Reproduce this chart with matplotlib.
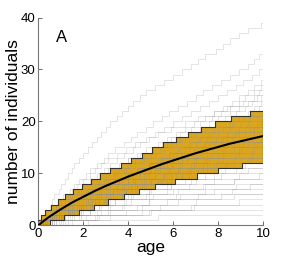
import numpy as np
import matplotlib as mpl
import matplotlib.pyplot as plt

mpl.rcParams.update({
    "font.family": ["Liberation Sans", "DejaVu Sans"],
    "xtick.direction": "in",
    "ytick.direction": "in",
})

GOLD = "#DAA520"

# simulated trajectories: ages at which the count goes up by one
trajectories = [
    [0.1, 0.2, 0.3, 0.5, 0.6, 0.7, 0.9, 1.0, 1.2, 1.3, 1.5, 1.6, 1.8, 2.0, 2.2, 2.4, 2.6, 2.8, 3.0, 3.2,
     3.5, 3.7, 4.0, 4.2, 4.5, 4.8, 5.2, 5.6, 6.0, 6.4, 6.8, 7.1, 7.4, 7.9, 8.2, 8.5, 8.9, 9.3, 9.9],
    [0.2, 0.4, 0.6, 0.8, 0.9, 1.1, 1.4, 1.6, 1.8, 2.1, 2.3, 2.6, 2.9, 3.1, 3.4, 3.8, 4.1, 4.4, 4.8, 5.1,
     5.5, 5.8, 6.2, 6.6, 7.0, 7.3, 7.7, 8.1, 8.5, 8.9, 9.3, 9.6, 9.8],
    [0.3, 0.5, 0.8, 1.0, 1.3, 1.5, 1.8, 2.0, 2.3, 2.6, 2.9, 3.2, 3.5, 3.8, 4.2, 4.5, 4.9, 5.2, 5.6, 6.0,
     6.4, 6.8, 7.2, 7.6, 8.0, 8.4, 8.8, 9.1, 9.5, 9.8],
    [0.2, 0.6, 0.9, 1.1, 1.4, 1.7, 2.1, 2.4, 2.7, 3.0, 3.4, 3.7, 4.0, 4.4, 4.8, 5.3, 5.7, 6.1, 6.5, 6.9,
     7.4, 7.8, 8.2, 8.6, 8.9, 9.3, 9.6, 9.9],
    [0.1, 0.3, 0.6, 0.8, 1.0, 1.3, 1.5, 1.7, 2.0, 2.3, 2.5, 2.8, 3.1, 3.5, 3.9, 4.3, 4.8, 5.3, 5.9, 6.5,
     7.1, 7.8, 8.4, 9.1, 9.7],
    [0.4, 0.7, 1.0, 1.2, 1.5, 1.9, 2.2, 2.5, 2.9, 3.3, 3.6, 4.0, 4.3, 4.7, 5.1, 5.5, 5.9, 6.3, 6.8, 7.2,
     7.7, 8.1, 8.5, 8.9, 9.2, 9.6, 9.9],
    [0.3, 0.5, 0.9, 1.3, 1.6, 1.9, 2.3, 2.6, 3.0, 3.4, 3.8, 4.1, 4.6, 5.0, 5.4, 5.9, 6.3, 6.8, 7.2, 7.6,
     8.0, 8.5, 8.9, 9.3, 9.6, 9.8],
    [0.2, 0.4, 0.7, 0.9, 1.2, 1.4, 1.7, 2.0, 2.4, 2.7, 3.1, 3.6, 4.0, 4.5, 5.1, 5.7, 6.4, 7.0, 7.8, 8.6,
     9.4],
    [0.1, 0.5, 0.8, 1.2, 1.6, 2.0, 2.3, 2.7, 3.1, 3.5, 3.9, 4.3, 4.7, 5.2, 5.6, 6.1, 6.5, 7.0, 7.4, 7.9,
     8.3, 8.8, 9.2, 9.5, 9.9],
    [0.4, 0.9, 1.3, 1.6, 2.0, 2.4, 2.8, 3.2, 3.6, 4.0, 4.5, 4.9, 5.4, 5.8, 6.2, 6.7, 7.1, 7.6, 8.0, 8.5,
     8.9, 9.3, 9.6, 9.9],
    [0.3, 0.7, 1.1, 1.5, 1.8, 2.3, 2.7, 3.1, 3.6, 4.0, 4.4, 4.9, 5.3, 5.8, 6.3, 6.8, 7.2, 7.7, 8.2, 8.7,
     9.1, 9.5, 9.8],
    [0.2, 0.6, 1.0, 1.4, 1.9, 2.3, 2.8, 3.2, 3.7, 4.1, 4.6, 5.0, 5.5, 6.0, 6.5, 7.0, 7.5, 8.0, 8.5, 9.0,
     9.4, 9.8],
    [0.3, 0.6, 0.9, 1.3, 1.7, 2.1, 2.5, 3.0, 3.4, 3.9, 4.4, 4.9, 5.5, 6.1, 6.7, 7.4, 8.1, 8.8, 9.6],
    [0.5, 0.9, 1.3, 1.8, 2.2, 2.6, 3.1, 3.5, 4.0, 4.5, 5.0, 5.4, 5.9, 6.4, 6.9, 7.4, 7.9, 8.4, 8.9, 9.3, 9.7],
    [0.3, 0.8, 1.2, 1.7, 2.1, 2.6, 3.0, 3.5, 4.0, 4.5, 5.0, 5.5, 6.0, 6.6, 7.1, 7.6, 8.2, 8.7, 9.2, 9.7],
    [0.6, 1.0, 1.4, 1.9, 2.4, 2.8, 3.3, 3.7, 4.2, 4.7, 5.2, 5.7, 6.2, 6.7, 7.3, 7.8, 8.4, 8.9, 9.4, 9.9],
    [0.4, 0.9, 1.4, 1.8, 2.3, 2.8, 3.3, 3.8, 4.3, 4.8, 5.3, 5.9, 6.4, 7.0, 7.5, 8.1, 8.6, 9.2, 9.7],
    [0.2, 0.7, 1.2, 1.7, 2.2, 2.7, 3.2, 3.8, 4.3, 4.9, 5.4, 6.0, 6.6, 7.2, 7.8, 8.4, 9.0, 9.6],
    [0.5, 1.0, 1.5, 2.0, 2.5, 3.0, 3.6, 4.1, 4.7, 5.2, 5.8, 6.3, 6.9, 7.5, 8.1, 8.7, 9.2, 9.8],
    [0.2, 0.5, 0.9, 1.2, 1.6, 2.1, 2.5, 3.0, 3.6, 4.2, 4.9, 5.6, 6.4, 7.3, 8.2, 9.1],
    [0.3, 0.8, 1.3, 1.9, 2.4, 3.0, 3.5, 4.1, 4.6, 5.2, 5.8, 6.4, 7.0, 7.7, 8.3, 8.9, 9.5],
    [0.6, 1.1, 1.6, 2.1, 2.7, 3.3, 3.9, 4.4, 5.0, 5.6, 6.2, 6.8, 7.4, 8.0, 8.7, 9.3, 9.9],
    [0.4, 0.9, 1.5, 2.0, 2.6, 3.2, 3.8, 4.4, 5.0, 5.6, 6.2, 6.9, 7.5, 8.2, 8.9, 9.6],
    [0.2, 0.7, 1.3, 1.9, 2.5, 3.1, 3.7, 4.3, 4.9, 5.6, 6.3, 6.9, 7.6, 8.3, 9.0, 9.7],
    [0.1, 0.6, 1.0, 1.5, 2.1, 2.6, 3.3, 4.0, 4.8, 5.7, 6.7, 7.8, 9.0],
    [0.5, 1.1, 1.7, 2.3, 2.9, 3.5, 4.1, 4.8, 5.4, 6.1, 6.8, 7.5, 8.2, 8.9, 9.6],
    [0.3, 0.9, 1.4, 2.0, 2.7, 3.3, 3.9, 4.6, 5.3, 5.9, 6.6, 7.3, 8.0, 8.8, 9.5],
    [0.6, 1.2, 1.8, 2.4, 3.0, 3.7, 4.3, 5.0, 5.7, 6.4, 7.1, 7.9, 8.7, 9.5],
    [0.2, 0.8, 1.3, 1.9, 2.5, 3.2, 3.9, 4.7, 5.5, 6.4, 7.3, 8.3, 9.4],
    [0.4, 1.0, 1.7, 2.3, 3.0, 3.7, 4.4, 5.1, 5.9, 6.7, 7.5, 8.4, 9.3],
    [0.7, 1.3, 2.0, 2.7, 3.4, 4.1, 4.9, 5.7, 6.5, 7.4, 8.3, 9.2],
    [0.3, 1.0, 1.6, 2.4, 3.2, 4.0, 4.9, 5.9, 7.0, 8.1, 9.3],
    [0.5, 1.2, 1.9, 2.7, 3.4, 4.2, 5.0, 5.9, 6.8, 7.8, 8.8],
    [0.8, 1.5, 2.3, 3.1, 3.9, 4.8, 5.7, 6.7, 7.8, 8.9],
    [0.4, 1.1, 1.9, 2.8, 3.8, 4.9, 6.0, 7.3, 8.7, 9.8],
    [0.6, 1.4, 2.3, 3.2, 4.1, 5.1, 6.2, 7.4, 8.7],
    [0.9, 1.8, 2.8, 3.8, 4.9, 6.1, 7.4, 8.8],
    [0.7, 1.6, 2.6, 3.7, 4.9, 6.3, 7.8, 9.4],
    [1.0, 2.1, 3.2, 4.4, 5.7, 7.1, 8.6],
    [0.8, 1.9, 3.1, 4.6, 6.2, 8.1],
    [1.2, 2.5, 3.9, 5.4, 7.0, 8.7],
    [1.5, 3.2, 5.0, 6.9, 8.9],
    [1.1, 2.7, 4.6, 6.8],
    [1.3, 2.6, 4.9],
    [2.2, 5.3],
]

# band: age at which each edge reaches the next level
upper_ages = [0.0, 0.1, 0.3, 0.55, 0.85, 1.2, 1.55, 1.95, 2.35, 2.75, 3.2, 3.65, 4.1,
              4.6, 5.05, 5.55, 6.1, 6.66, 7.25, 7.84, 8.58, 9.4]
upper_levels = list(range(1, 23))
lower_ages = [0.0, 0.5, 1.15, 1.8, 2.45, 3.1, 3.8, 4.45, 5.18, 6.07, 7.03, 7.99, 9.03]
lower_levels = list(range(0, 13))

# mean curve
mean_age = [0, 0.25, 0.5, 1, 1.5, 2, 2.5, 3, 3.5, 4, 4.5, 5, 5.5, 6, 6.5, 7, 7.5, 8, 8.5, 9, 9.5, 10]
mean_count = [0, 0.9, 1.7, 3.1, 4.4, 5.5, 6.6, 7.6, 8.5, 9.4, 10.2, 11.0, 11.8, 12.5, 13.2, 13.9,
              14.5, 15.1, 15.7, 16.2, 16.7, 17.2]

T_END = 10.0


def step_xy(ages, levels, t_end):
    x, y = [], []
    for i, (a, lv) in enumerate(zip(ages, levels)):
        nxt = ages[i + 1] if i + 1 < len(ages) else t_end
        x += [a, nxt]
        y += [lv, lv]
    return np.array(x), np.array(y)


fig = plt.figure(figsize=(2.91, 2.62), dpi=100)
ax = fig.add_axes([0.132, 0.140, 0.773, 0.793])

ux, uy = step_xy(upper_ages, upper_levels, T_END)
lx, ly = step_xy(lower_ages, lower_levels, T_END)
px = np.concatenate([ux, lx[::-1]])
py = np.concatenate([uy, ly[::-1]])
ax.fill(px, py, color=GOLD, lw=0, zorder=1)

for jumps in trajectories:
    ages = [0.0] + jumps
    counts = list(range(len(ages)))
    x, y = step_xy(ages, counts, T_END)
    ax.plot(x, y, color="#909090", lw=0.6, alpha=0.28, zorder=2)

ax.plot(ux, uy, color="#333333", lw=0.8, zorder=3)
ax.plot(lx, ly, color="#333333", lw=0.8, zorder=3)
ax.plot([T_END, T_END], [lower_levels[-1], upper_levels[-1]], color="#333333", lw=0.8, zorder=3)
ax.plot(mean_age, mean_count, color="black", lw=1.5, zorder=4)

ax.text(1.03, 36.2, "A", fontsize=12, ha="center", va="center")

ax.set_xlim(0, 10)
ax.set_ylim(0, 40)
ax.set_xticks([0, 2, 4, 6, 8, 10])
ax.set_yticks([0, 10, 20, 30, 40])
ax.tick_params(labelsize=9.5, length=3, width=0.6, color="#555555", pad=2)
for s in ["top", "right"]:
    ax.spines[s].set_visible(False)
for s in ["left", "bottom"]:
    ax.spines[s].set_color("#777777")
    ax.spines[s].set_linewidth(0.8)
ax.set_xlabel("age", fontsize=12.5, labelpad=0)
ax.set_ylabel("number of individuals", fontsize=12.5, labelpad=0)

fig.savefig("out.png", dpi=100)
